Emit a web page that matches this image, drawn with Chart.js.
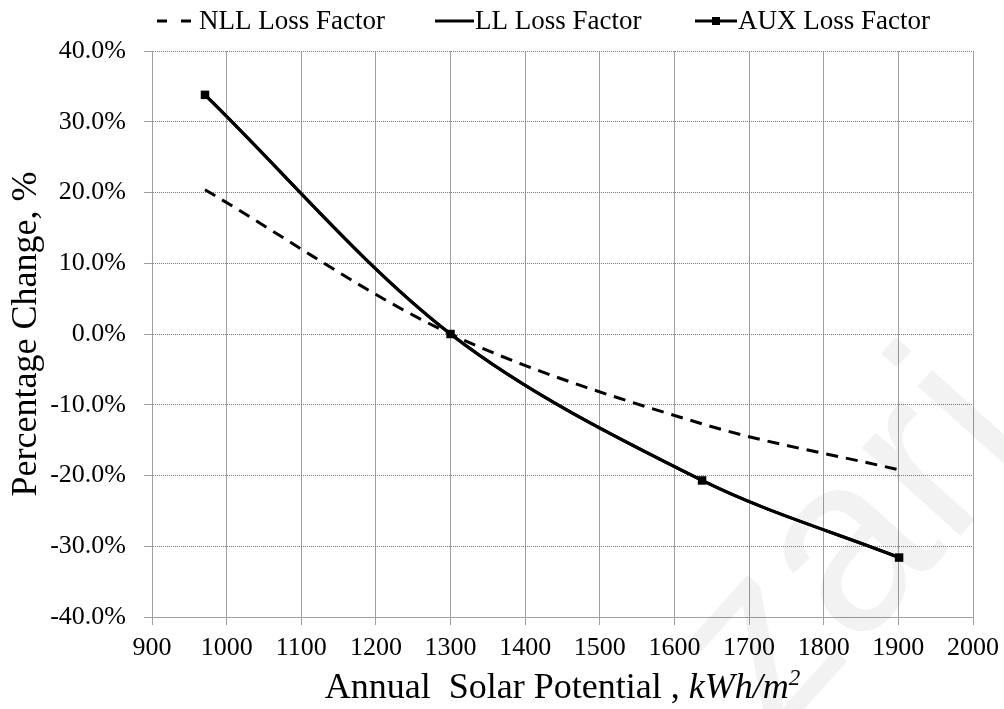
<!DOCTYPE html>
<html>
<head>
<meta charset="utf-8">
<script src="https://cdn.jsdelivr.net/npm/chart.js@4.4.0/dist/chart.umd.min.js"></script>
<style>
  html, body { margin: 0; padding: 0; background: #fff; }
  #wrap { width: 1004px; height: 709px; position: relative; }
</style>
</head>
<body>
<div id="wrap"><canvas id="lossChart"></canvas></div>
<script>
// values
const solarPotential = [971, 1300, 1637, 1901];
const nllLoss = [20.4, 0.0, -12.7, -19.2];
const llLoss = [33.8, 0.0, -20.7, -31.6];
const auxLoss = [33.8, 0.0, -20.7, -31.6];

const xTickValues = [900, 1000, 1100, 1200, 1300, 1400, 1500, 1600, 1700, 1800, 1900, 2000];
const yTickValues = [-40, -30, -20, -10, 0, 10, 20, 30, 40];

const seriesNames = ['NLL Loss Factor', 'LL Loss Factor', 'AUX Loss Factor'];
const yTitle = 'Percentage Change, %';
const xTitle = 'Annual  Solar Potential , ';
const xUnit = 'kWh/m';
const xUnitSup = '2';
const watermark = 'zari';

const serif = '"Liberation Serif", "Times New Roman", serif';

function toPoints(xs, ys) {
    return xs.map((x, i) => ({ x: x, y: ys[i] }));
}

// legend, axis titles and the watermark are painted by hand
const extras = {
    id: 'extras',
    beforeDatasetsDraw(chart) {
        const ctx = chart.ctx;
        ctx.save();
        ctx.translate(772, 745);
        ctx.rotate(-48 * Math.PI / 180);
        ctx.font = '250px "Liberation Sans", Arial, sans-serif';
        ctx.fillStyle = 'rgba(0, 0, 0, 0.05)';
        ctx.textBaseline = 'alphabetic';
        ctx.fillText(watermark, 0, 0);
        ctx.restore();
    },
    afterDraw(chart) {
        const ctx = chart.ctx;
        const area = chart.chartArea;
        ctx.save();
        ctx.fillStyle = '#000';
        ctx.strokeStyle = '#000';

        // legend
        const ly = 21;
        ctx.font = '27px ' + serif;
        ctx.textBaseline = 'middle';
        ctx.textAlign = 'left';
        ctx.lineWidth = 3;

        ctx.setLineDash([10, 14]);
        ctx.beginPath();
        ctx.moveTo(157, ly);
        ctx.lineTo(192, ly);
        ctx.stroke();
        ctx.setLineDash([]);
        ctx.fillText(seriesNames[0], 199, ly + 1);

        ctx.beginPath();
        ctx.moveTo(435, ly);
        ctx.lineTo(474, ly);
        ctx.stroke();
        ctx.fillText(seriesNames[1], 475, ly + 1);

        ctx.beginPath();
        ctx.moveTo(695, ly);
        ctx.lineTo(737, ly);
        ctx.stroke();
        ctx.fillRect(716 - 4, ly - 4, 8, 8);
        ctx.fillText(seriesNames[2], 738, ly + 1);

        // y axis title
        ctx.save();
        ctx.translate(36, (area.top + area.bottom) / 2);
        ctx.rotate(-Math.PI / 2);
        ctx.textAlign = 'center';
        ctx.textBaseline = 'alphabetic';
        ctx.font = '36px ' + serif;
        ctx.fillText(yTitle, 0, 0);
        ctx.restore();

        // x axis title with italic unit and superscript
        ctx.textBaseline = 'alphabetic';
        const mainFont = '36px ' + serif;
        const unitFont = 'italic 36px ' + serif;
        const supFont = 'italic 23px ' + serif;
        ctx.font = mainFont;
        const w1 = ctx.measureText(xTitle).width;
        ctx.font = unitFont;
        const w2 = ctx.measureText(xUnit).width;
        ctx.font = supFont;
        const w3 = ctx.measureText(xUnitSup).width;
        let tx = (area.left + area.right) / 2 - (w1 + w2 + w3) / 2;
        const by = 698;
        ctx.font = mainFont;
        ctx.fillText(xTitle, tx, by);
        tx += w1;
        ctx.font = unitFont;
        ctx.fillText(xUnit, tx, by);
        tx += w2;
        ctx.font = supFont;
        ctx.fillText(xUnitSup, tx, by - 13);
        ctx.restore();
    }
};

const ctx = document.getElementById('lossChart').getContext('2d');

new Chart(ctx, {
    type: 'line',
    data: {
        datasets: [
            {
                label: seriesNames[2],
                data: toPoints(solarPotential, auxLoss),
                borderColor: '#000',
                backgroundColor: '#000',
                borderWidth: 3,
                pointStyle: 'rect',
                pointRadius: 6,
                pointBorderWidth: 0,
                tension: 0.33
            },
            {
                label: seriesNames[1],
                data: toPoints(solarPotential, llLoss),
                borderColor: '#000',
                borderWidth: 3,
                pointRadius: 0,
                tension: 0.33
            },
            {
                label: seriesNames[0],
                data: toPoints(solarPotential, nllLoss),
                borderColor: '#000',
                borderWidth: 3,
                borderDash: [12, 8],
                pointRadius: 0,
                tension: 0.33
            }
        ]
    },
    options: {
        responsive: true,
        maintainAspectRatio: false,
        animation: false,
        layout: {
            padding: { left: 0, right: 31, top: 51, bottom: 0 }
        },
        plugins: {
            legend: { display: false },
            tooltip: { enabled: false }
        },
        scales: {
            x: {
                type: 'linear',
                min: 900,
                max: 2000,
                afterBuildTicks: (scale) => {
                    scale.ticks = xTickValues.map(v => ({ value: v }));
                },
                afterFit: (scale) => {
                    scale.height = 92;
                    scale.paddingLeft = 0;
                    scale.paddingRight = 0;
                },
                ticks: {
                    font: { family: serif, size: 26 },
                    color: '#000',
                    padding: 8,
                    maxRotation: 0,
                    autoSkip: false,
                    callback: (value) => String(value)
                },
                grid: {
                    color: '#a0a0a0',
                    lineWidth: 1,
                    tickLength: 8,
                    tickColor: '#a0a0a0'
                },
                border: { color: '#a0a0a0' }
            },
            y: {
                min: -40,
                max: 40,
                afterBuildTicks: (scale) => {
                    scale.ticks = yTickValues.map(v => ({ value: v }));
                },
                afterFit: (scale) => {
                    scale.width = 152;
                    scale.paddingTop = 0;
                    scale.paddingBottom = 0;
                },
                ticks: {
                    font: { family: serif, size: 26 },
                    color: '#000',
                    padding: 18,
                    autoSkip: false,
                    callback: (value) => value.toFixed(1) + '%'
                },
                grid: {
                    color: '#7a7a7a',
                    lineWidth: 1,
                    tickLength: 8,
                    tickColor: '#a0a0a0',
                    tickBorderDash: []
                },
                border: { color: '#a0a0a0', dash: [1, 1] }
            }
        }
    },
    plugins: [extras]
});
</script>
</body>
</html>
